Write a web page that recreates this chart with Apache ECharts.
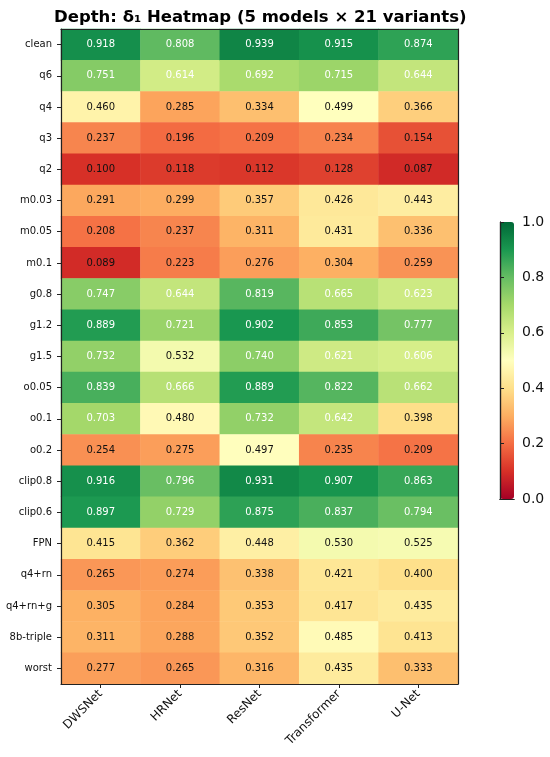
<!DOCTYPE html>
<html>
<head>
<meta charset="utf-8">
<script src="https://cdn.jsdelivr.net/npm/echarts@6/dist/echarts.min.js"></script>
<style>
html, body { margin: 0; padding: 0; background: #fff; }
#chart { width: 550px; height: 757px; }
</style>
</head>
<body>
<div id="chart"></div>
<script>
var models = ['DWSNet', 'HRNet', 'ResNet', 'Transformer', 'U-Net'];
var variants = ['clean', 'q6', 'q4', 'q3', 'q2', 'm0.03', 'm0.05', 'm0.1', 'g0.8', 'g1.2', 'g1.5',
    'o0.05', 'o0.1', 'o0.2', 'clip0.8', 'clip0.6', 'FPN', 'q4+rn', 'q4+rn+g', '8b-triple', 'worst'];
// one value per variant, one array per model
var dwsnet = [0.918, 0.751, 0.460, 0.237, 0.100, 0.291, 0.208, 0.089, 0.747, 0.889, 0.732,
    0.839, 0.703, 0.254, 0.916, 0.897, 0.415, 0.265, 0.305, 0.311, 0.277];
var hrnet = [0.808, 0.614, 0.285, 0.196, 0.118, 0.299, 0.237, 0.223, 0.644, 0.721, 0.532,
    0.666, 0.480, 0.275, 0.796, 0.729, 0.362, 0.274, 0.284, 0.288, 0.265];
var resnet = [0.939, 0.692, 0.334, 0.209, 0.112, 0.357, 0.311, 0.276, 0.819, 0.902, 0.740,
    0.889, 0.732, 0.497, 0.931, 0.875, 0.448, 0.338, 0.353, 0.352, 0.316];
var transformer = [0.915, 0.715, 0.499, 0.234, 0.128, 0.426, 0.431, 0.304, 0.665, 0.853, 0.621,
    0.822, 0.642, 0.235, 0.907, 0.837, 0.530, 0.421, 0.417, 0.485, 0.435];
var unet = [0.874, 0.644, 0.366, 0.154, 0.087, 0.443, 0.336, 0.259, 0.623, 0.777, 0.606,
    0.662, 0.398, 0.209, 0.863, 0.794, 0.525, 0.400, 0.435, 0.413, 0.333];
var colorbarTicks = [0, 0.2, 0.4, 0.6, 0.8, 1.0];

var RdYlGn = ['#a50026', '#d73027', '#f46d43', '#fdae61', '#fee08b', '#ffffbf',
    '#d9ef8b', '#a6d96a', '#66bd63', '#1a9850', '#006837'];
var FONT = 'DejaVu Sans';
var LINE = '#222';

var columns = [dwsnet, hrnet, resnet, transformer, unet];
var cells = [];
for (var c = 0; c < columns.length; c++) {
    for (var r = 0; r < variants.length; r++) {
        var v = columns[c][r];
        cells.push({
            value: [c, r, v],
            label: { color: v > 0.6 ? '#ffffff' : '#111111' }
        });
    }
}

//只画边框的坐标轴
function frameAxis(type, grid, pos, extra) {
    var axis = {
        type: type,
        gridIndex: grid,
        position: pos,
        z: 10,
        axisLine: { show: true, lineStyle: { color: LINE, width: 1.2 } },
        axisTick: { show: false },
        axisLabel: { show: false },
        splitLine: { show: false }
    };
    for (var k in extra) axis[k] = extra[k];
    return axis;
}

var chart = echarts.init(document.getElementById('chart'));
chart.setOption({
    animation: false,
    backgroundColor: '#ffffff',
    title: {
        text: 'Depth: δ₁ Heatmap (5 models × 21 variants)',
        left: 49,
        top: 4,
        textStyle: { fontFamily: FONT, fontSize: 16.5, fontWeight: 'bold', color: '#000' }
    },
    grid: [
        { left: 61, right: 92, top: 29, bottom: 73 },
        { left: 500, width: 14, top: 222, height: 277 }
    ],
    xAxis: [{
        type: 'category',
        gridIndex: 0,
        data: models,
        position: 'bottom',
        z: 10,
        axisLine: { show: true, lineStyle: { color: LINE, width: 1.2 } },
        axisTick: { show: true, alignWithLabel: true, length: 4, lineStyle: { color: LINE } },
        axisLabel: { rotate: 45, fontFamily: FONT, fontSize: 12, color: '#111', margin: 8 },
        splitLine: { show: false }
    },
    frameAxis('category', 0, 'top', { data: models }),
    frameAxis('value', 1, 'bottom', { min: 0, max: 1 }),
    frameAxis('value', 1, 'top', { min: 0, max: 1 })],
    yAxis: [{
        type: 'category',
        gridIndex: 0,
        data: variants,
        inverse: true,
        position: 'left',
        z: 10,
        axisLine: { show: true, lineStyle: { color: LINE, width: 1.2 } },
        axisTick: { show: true, alignWithLabel: true, length: 4, lineStyle: { color: LINE } },
        axisLabel: { fontFamily: FONT, fontSize: 10, color: '#111', margin: 9 },
        splitLine: { show: false }
    },
    frameAxis('category', 0, 'right', { data: variants, inverse: true }),
    {
        type: 'value',
        gridIndex: 1,
        min: 0,
        max: 1,
        interval: 0.2,
        position: 'right',
        z: 10,
        axisLine: { show: true, lineStyle: { color: LINE, width: 1.2 } },
        axisTick: { show: true, length: 4, lineStyle: { color: LINE } },
        axisLabel: {
            fontFamily: FONT, fontSize: 14, color: '#111', margin: 8,
            formatter: function (val) {
                for (var i = 0; i < colorbarTicks.length; i++) {
                    if (Math.abs(colorbarTicks[i] - val) < 1e-6) return colorbarTicks[i].toFixed(1);
                }
                return '';
            }
        },
        splitLine: { show: false }
    },
    frameAxis('value', 1, 'left', { min: 0, max: 1 })],
    visualMap: {
        type: 'continuous',
        min: 0,
        max: 1,
        seriesIndex: 0,
        calculable: false,
        realtime: false,
        orient: 'vertical',
        left: 500,
        top: 222,
        itemWidth: 14,
        itemHeight: 277,
        padding: 0,
        z: 2,
        text: ['', ''],
        showLabel: false,
        inRange: { color: RdYlGn }
    },
    series: [{
        type: 'heatmap',
        xAxisIndex: 0,
        yAxisIndex: 0,
        data: cells,
        label: {
            show: true,
            fontFamily: FONT,
            fontSize: 10,
            formatter: function (p) { return p.value[2].toFixed(3); }
        },
        itemStyle: { borderWidth: 0 }
    }, {
        type: 'line',
        xAxisIndex: 2,
        yAxisIndex: 2,
        data: [],
        silent: true
    }]
});
</script>
</body>
</html>
